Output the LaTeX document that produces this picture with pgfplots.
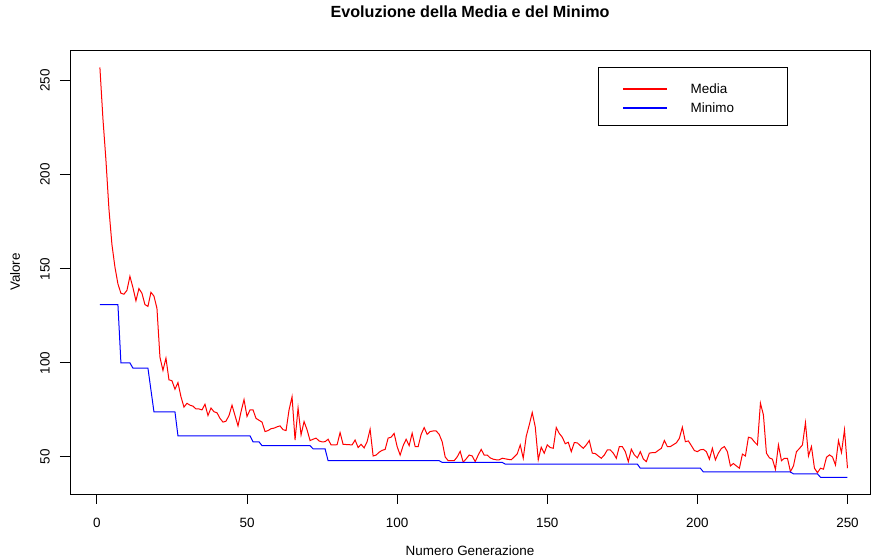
\documentclass[border=0pt]{standalone}
\usepackage{fontspec}
\setmainfont{Liberation Sans}
\usepackage{pgfplots}
\pgfplotsset{compat=1.18}

% Mean of each generation
\pgfplotstableread{
gen val
1 257
2 230
3 208
4 182
5 163
6 151
7 142
8 137
9 136.5
10 138.5
11 146
12 140
13 133
14 139.5
15 137
16 131
17 130
18 137.5
19 135.5
20 129
21 103
22 96
23 102.5
24 91
25 90.5
26 86
27 89.5
28 82
29 76.5
30 78.5
31 77.5
32 77
33 75.5
34 75.5
35 75
36 78
37 72
38 76
39 74
40 73.5
41 70.5
42 68.5
43 69
44 72
45 77.5
46 72
47 66.5
48 74
49 80.5
50 71.5
51 75
52 75
53 70.5
54 69.5
55 68.5
56 63.5
57 64
58 65
59 65.3
60 66
61 66.5
62 64.5
63 64
64 75
65 82
66 59
67 76
68 61.7
69 68.8
70 64.4
71 58.7
72 59.4
73 60
74 58.5
75 58
76 58.1
77 59.4
78 56.4
79 56.4
80 56.5
81 62.9
82 56.7
83 56.6
84 56.5
85 56.4
86 59
87 55
88 56.7
89 54.8
90 58.1
91 64.7
92 50.5
93 51
94 52.5
95 53.5
96 54
97 60
98 60.5
99 62.5
100 55.5
101 51
102 56
103 59.4
104 56
105 62.6
106 55.5
107 55.5
108 62
109 65.6
110 62
111 63.5
112 63.8
113 63.8
114 62
115 58.1
116 50
117 48
118 48
119 48
120 50
121 53
122 47.2
123 49
124 51
125 50.5
126 47.5
127 51
128 54
129 51
130 51
131 49.5
132 48.8
133 48.5
134 48.5
135 49.3
136 49
137 48.7
138 48.5
139 50
140 51.6
141 56.4
142 49.3
143 61
144 67
145 73.6
146 66
147 48.5
148 55.2
149 52
150 56.4
151 55
152 54.6
153 65.6
154 62.5
155 60.5
156 57
157 57.8
158 52.8
159 57.6
160 57.5
161 56
162 54.6
163 56.4
164 58.7
165 52
166 51.8
167 50.5
168 49.3
169 51
170 53.7
171 53.7
172 52
173 49.3
174 55.5
175 55.5
176 52.8
177 47.5
178 54.1
179 51.1
180 49.5
181 52.8
182 48.9
183 47.5
184 52
185 52.3
186 52.3
187 53.5
188 54.6
189 58.7
190 55.5
191 55.5
192 56.5
193 57.5
194 59.9
195 65.8
196 58.1
197 58.5
198 56
199 53.4
200 52.8
201 53.8
202 54
203 52.8
204 48.8
205 54.6
206 48.4
207 52
208 54.5
209 55.5
210 52.8
211 45.2
212 46.5
213 45.2
214 44
215 51.5
216 50.5
217 60.5
218 60
219 58
220 56.4
221 78.6
222 72.3
223 52
224 49.5
225 48.8
226 43.4
227 56.4
228 48
229 49.3
230 49.3
231 42.2
232 45.2
233 52.8
234 54.5
235 56.4
236 68.2
237 50.5
238 55.5
239 44
240 41.6
241 44
242 43.5
243 49.8
244 51.1
245 50
246 45.7
247 58.7
248 52.3
249 64.4
250 44
}\media

% Best value found so far (changes only)
\pgfplotstableread{
gen val
1 131
7 131
8 100
11 100
12 97.2
17 97.2
19 74
26 74
27 61.2
51 61.2
52 58
54 58
55 56
71 56
72 54.3
76 54.3
77 48
114 48
115 47.1
135 47.1
136 46.2
180 46.2
181 44
201 44
202 42
231 42
232 41
240 41
241 39.2
250 39.2
}\minimo

\begin{document}
\begin{tikzpicture}[x=1bp,y=1bp]
\useasboundingbox (-70,-64) rectangle (801,494);
\begin{axis}[
  at={(0,0)}, anchor=south west,
  scale only axis, width=800bp, height=444bp,
  xmin=-8.96, xmax=257.5, ymin=30.3, ymax=266.3,
  axis line style={line width=0.9bp, black},
  xtick={0,50,...,250}, ytick={50,100,...,250},
  tick align=outside, xtick pos=bottom, ytick pos=left,
  major tick length=10bp,
  tick style={line width=0.9bp, black},
  /pgf/number format/assume math mode=true,
  ticklabel style={font=\fontsize{13.5}{16}\selectfont, text=black},
  xticklabel style={anchor=center, yshift=-19bp},
  yticklabel style={xshift=-15bp, rotate=90, anchor=center},
  title={Evoluzione della Media e del Minimo},
  title style={font=\fontsize{16.2}{19}\selectfont\bfseries, at={(axis description cs:0.5,1.0721)}, anchor=center},
  xlabel={Numero Generazione},
  xlabel style={font=\fontsize{13.5}{16}\selectfont, at={(axis description cs:0.5,-0.1284)}, anchor=center},
  ylabel={Valore},
  ylabel style={font=\fontsize{13.5}{16}\selectfont, at={(axis description cs:-0.06875,0.5)}, anchor=center},
  legend style={draw=none, fill=none, at={(axis description cs:0.69,0.8908)}, anchor=west,
    inner sep=0pt, row sep=9bp, column sep=22bp,
    font=\fontsize{13.5}{16}\selectfont,
    nodes={inner sep=0pt, text height=10bp, text depth=0bp}},
  legend cell align=left,
  legend image code/.code={\draw[#1, line width=2.5bp] (0bp,0bp) -- (44bp,0bp);},
]
\addplot[red, line width=1bp] table[x=gen, y=val] {\media};
\addplot[blue, line width=1bp] table[x=gen, y=val] {\minimo};
\legend{Media, Minimo}
\draw[line width=0.9bp, black] (rel axis cs:0.66,0.9617) rectangle (rel axis cs:0.89625,0.8311);
\end{axis}
\end{tikzpicture}
\end{document}
